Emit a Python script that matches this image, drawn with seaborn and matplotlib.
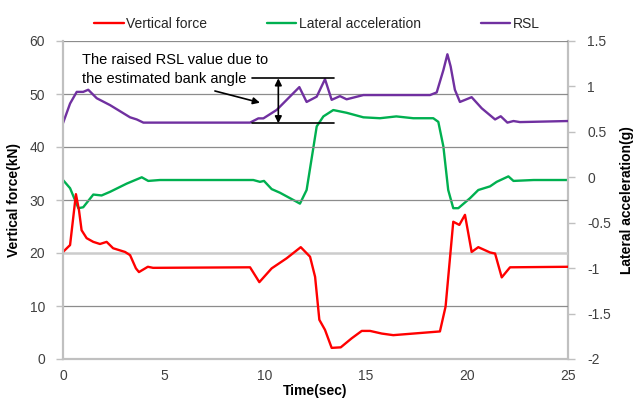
import matplotlib
matplotlib.use("Agg")
import matplotlib.pyplot as plt
import numpy as np
import pandas as pd
import seaborn as sns

# ---- data -------------------------------------------------------------
force_t = [0, 0.35, 0.51, 0.64, 0.79, 0.92, 1.17, 1.5, 1.83, 2.16, 2.48, 3.07,
           3.32, 3.61, 3.76, 4.2, 4.46, 9.26, 9.72, 10.33, 11.07, 11.77, 12.23,
           12.48, 12.69, 12.97, 13.3, 13.75, 14.29, 14.79, 15.2, 15.78, 16.35,
           17.34, 18.0, 18.66, 18.94, 19.32, 19.62, 19.9, 20.23, 20.56, 21.14,
           21.39, 21.72, 22.13, 25]
force_kn = [20.2, 21.5, 26.8, 31.1, 28.1, 24.3, 22.8, 22.1, 21.7, 22.1, 20.9, 20.2,
            19.6, 17.1, 16.4, 17.4, 17.2, 17.3, 14.5, 17.1, 19.0, 21.1, 19.3,
            15.5, 7.4, 5.5, 2.1, 2.2, 3.9, 5.3, 5.3, 4.8, 4.5,
            4.8, 5.0, 5.2, 9.9, 25.9, 25.3, 27.2, 20.2, 21.1, 20.1,
            19.9, 15.4, 17.3, 17.4]

lat_t = [0, 0.35, 0.76, 1.0, 1.5, 1.91, 2.33, 3.15, 3.9, 4.22, 4.8, 9.42, 9.75,
         9.95, 10.33, 10.74, 11.57, 11.73, 12.06, 12.39, 12.56, 12.89, 13.38,
         14.04, 14.87, 15.69, 16.5, 17.34, 18.33, 18.58, 18.83, 19.07, 19.32,
         19.57, 20.15, 20.56, 21.14, 21.47, 22.05, 22.3, 23.3, 25]
lat_g = [-0.03, -0.12, -0.34, -0.33, -0.19, -0.20, -0.16, -0.07, 0.0, -0.04, -0.03,
         -0.03, -0.05, -0.04, -0.13, -0.17, -0.27, -0.29, -0.14, 0.32, 0.56, 0.67,
         0.74, 0.71, 0.66, 0.65, 0.67, 0.65, 0.65, 0.61, 0.34, -0.14, -0.34,
         -0.34, -0.23, -0.14, -0.10, -0.05, 0.01, -0.04, -0.03, -0.03]

rsl_t = [0, 0.35, 0.68, 1.0, 1.25, 1.67, 2.33, 3.32, 3.65, 3.98, 9.26, 9.67, 9.92,
         10.58, 11.7, 12.06, 12.56, 12.97, 13.3, 13.71, 14.04, 14.87, 18.17, 18.5,
         18.83, 19.03, 19.19, 19.4, 19.65, 20.23, 20.73, 21.39, 21.67, 22.0, 22.3,
         22.62, 25]
rsl_kn = [44.5, 48.2, 50.4, 50.4, 50.8, 49.2, 47.9, 45.6, 45.2, 44.6, 44.6, 45.4,
          45.4, 47.0, 51.3, 48.5, 49.5, 52.8, 48.9, 49.6, 49.0, 49.8, 49.8, 50.3,
          54.5, 57.5, 55.2, 50.8, 48.5, 49.4, 47.3, 45.2, 45.8, 44.6, 44.9,
          44.7, 44.9]

series_names = ["Vertical force", "Lateral acceleration", "RSL"]
series_colors = ["#ff0000", "#00b050", "#7030a0"]

left_ticks = [0, 10, 20, 30, 40, 50, 60]
right_ticks = [-2, -1.5, -1, -0.5, 0, 0.5, 1, 1.5]
right_labels = ["-2", "-1.5", "-1", "-0.5", "0", "0.5", "1", "1.5"]
x_ticks = [0, 5, 10, 15, 20, 25]

# ---- style --------------------------------------------------------------
sns.set_theme(style="white")
plt.rcParams["font.family"] = ["Liberation Sans", "DejaVu Sans"]
plt.rcParams["font.size"] = 10

force_df = pd.DataFrame({"t": force_t, "v": force_kn})
lat_df = pd.DataFrame({"t": lat_t, "v": lat_g})
rsl_df = pd.DataFrame({"t": rsl_t, "v": rsl_kn})

fig = plt.figure(figsize=(6.42, 4.03), dpi=100)
ax = fig.add_axes([63 / 642, 1 - 359 / 403, 505 / 642, 318 / 403])
ax2 = ax.twinx()

lw = 1.7
sns.lineplot(data=force_df, x="t", y="v", ax=ax, color=series_colors[0],
             linewidth=lw, label=series_names[0], sort=False, legend=False)
sns.lineplot(data=rsl_df, x="t", y="v", ax=ax, color=series_colors[2],
             linewidth=lw, label=series_names[2], sort=False, legend=False)
sns.lineplot(data=lat_df, x="t", y="v", ax=ax2, color=series_colors[1],
             linewidth=lw, label=series_names[1], sort=False, legend=False)

# axes ranges and ticks
ax.set_xlim(0, 25)
ax.set_ylim(0, 60)
ax2.set_ylim(-2, 1.5)
ax.set_xticks(x_ticks)
ax.set_xticklabels([str(v) for v in x_ticks])
ax.set_yticks(left_ticks)
ax.set_yticklabels([str(v) for v in left_ticks])
ax2.set_yticks(right_ticks)
ax2.set_yticklabels(right_labels)

grid_c = "#8c8c8c"
axis_c = "#c0c0c0"
for yv in left_ticks[1:]:
    if yv == 20:
        ax.axhline(yv, color="#cccccc", lw=1.8, zorder=0.5)
    else:
        ax.axhline(yv, color=grid_c, lw=0.9, zorder=0.5)

for a in (ax, ax2):
    a.spines["top"].set_visible(False)
    for s in ("left", "right", "bottom"):
        a.spines[s].set_color(axis_c)
        a.spines[s].set_linewidth(1.6)
    a.tick_params(colors="#404040", labelsize=10, length=5, width=1.0,
                  direction="out")
    a.tick_params(axis="both", color=axis_c)
ax.spines["right"].set_visible(False)
ax2.spines["left"].set_visible(False)
ax2.spines["bottom"].set_visible(False)
ax.tick_params(axis="x", pad=2)
ax.tick_params(axis="y", pad=8)
ax2.tick_params(axis="y", pad=9)

ax.set_xlabel("Time(sec)", fontsize=10, fontweight="bold", color="black",
              labelpad=1)
ax.set_ylabel("Vertical force(kN)", fontsize=10, fontweight="bold",
              color="black", labelpad=6)
ax2.set_ylabel("Lateral acceleration(g)", fontsize=10, fontweight="bold",
               color="black", labelpad=6)
ax.set_zorder(ax2.get_zorder() + 1)
ax.patch.set_visible(False)

# annotation of the raised RSL band
ax.text(0.94, 54.6, "The raised RSL value due to\nthe estimated bank angle",
        fontsize=10.5, color="black", va="center", ha="left", linespacing=1.4)
ax.plot([9.34, 13.42], [52.96, 52.96], color="black", lw=1.2)
ax.plot([9.34, 13.42], [44.47, 44.47], color="black", lw=1.2)
ax.annotate("", xy=(10.66, 52.96), xytext=(10.66, 44.47),
            arrowprops=dict(arrowstyle="<|-|>", color="black", lw=1.2,
                            shrinkA=0, shrinkB=0, mutation_scale=10))
ax.annotate("", xy=(9.75, 48.36), xytext=(7.52, 50.57),
            arrowprops=dict(arrowstyle="-|>", color="black", lw=1.2,
                            shrinkA=0, shrinkB=0, mutation_scale=10))

# legend above the plot
h1, l1 = ax.get_legend_handles_labels()
h2, l2 = ax2.get_legend_handles_labels()
hmap = dict(zip(l1 + l2, h1 + h2))
handles = [hmap[n] for n in series_names]
fig.legend(handles, series_names, loc="center", ncol=3, frameon=False,
           bbox_to_anchor=(317 / 642, 1 - 24 / 403), fontsize=10,
           handlelength=2.1, handletextpad=0.2, columnspacing=4.3)

fig.savefig("out.png", dpi=100)
